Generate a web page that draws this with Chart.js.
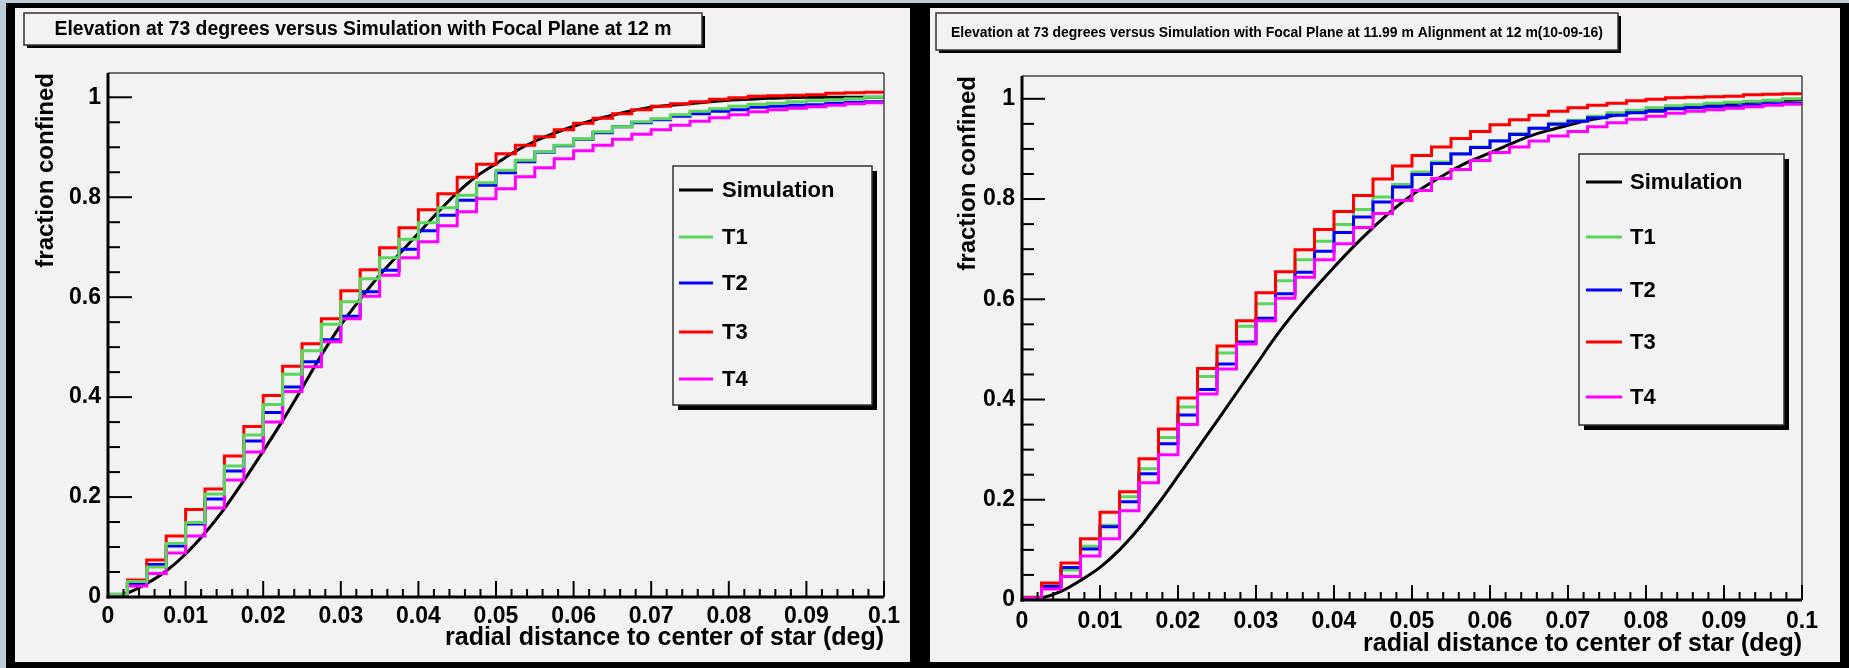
<!DOCTYPE html>
<html>
<head>
<meta charset="utf-8">
<title>Fraction confined vs radial distance</title>
<script src="https://cdn.jsdelivr.net/npm/chart.js@4.4.1/dist/chart.umd.min.js"></script>
<style>
  html, body { margin: 0; padding: 0; }
  body { width: 1849px; height: 668px; background: #000; position: relative; overflow: hidden; }
  .strip { position: absolute; background: #bccdd9; }
  canvas { position: absolute; top: 8px; background: #f2f2f2; }
</style>
</head>
<body>
<div class="strip" style="left:0;top:0;width:1849px;height:3px"></div>
<div class="strip" style="left:0;top:0;width:6px;height:668px"></div>
<canvas id="leftChart" width="895" height="654" style="left:15px"></canvas>
<canvas id="rightChart" width="910" height="654" style="left:930px"></canvas>
<script>
// bin edges / sample radii (deg)
var radius = [0, 0.0025, 0.005, 0.0075, 0.01, 0.0125, 0.015, 0.0175, 0.02, 0.0225,
  0.025, 0.0275, 0.03, 0.0325, 0.035, 0.0375, 0.04, 0.0425, 0.045, 0.0475,
  0.05, 0.0525, 0.055, 0.0575, 0.06, 0.0625, 0.065, 0.0675, 0.07, 0.0725,
  0.075, 0.0775, 0.08, 0.0825, 0.085, 0.0875, 0.09, 0.0925, 0.095, 0.0975, 0.1];

// simulation curves (one per panel), sampled at radius
var simLeft = [0, 0.008, 0.027, 0.052, 0.086, 0.128, 0.177, 0.233, 0.292, 0.353,
  0.418, 0.484, 0.544, 0.596, 0.644, 0.686, 0.728, 0.77, 0.809, 0.842,
  0.867, 0.892, 0.912, 0.928, 0.942, 0.954, 0.964, 0.973, 0.98, 0.984,
  0.987, 0.991, 0.994, 0.996, 0.998, 0.999, 1.0, 1.0, 1.0, 1.0, 1.0];
var simRight = [0, 0.004, 0.017, 0.039, 0.065, 0.1, 0.143, 0.193, 0.247, 0.302,
  0.357, 0.413, 0.469, 0.525, 0.575, 0.621, 0.664, 0.705, 0.743, 0.778,
  0.808, 0.833, 0.856, 0.876, 0.892, 0.909, 0.925, 0.937, 0.947, 0.957,
  0.964, 0.971, 0.976, 0.98, 0.983, 0.986, 0.989, 0.992, 0.995, 0.997, 0.998];

// measured telescopes, cumulative fraction per bin (40 bins)
var t1 = [0.006, 0.031, 0.06, 0.107, 0.149, 0.206, 0.262, 0.324, 0.385, 0.446,
  0.493, 0.546, 0.591, 0.637, 0.679, 0.716, 0.749, 0.779, 0.804, 0.829,
  0.854, 0.874, 0.891, 0.904, 0.917, 0.931, 0.941, 0.951, 0.957, 0.965,
  0.972, 0.977, 0.982, 0.986, 0.988, 0.991, 0.993, 0.995, 0.997, 1.0];
var t2 = [0.005, 0.027, 0.065, 0.102, 0.146, 0.196, 0.252, 0.312, 0.369, 0.42,
  0.471, 0.515, 0.562, 0.611, 0.654, 0.696, 0.733, 0.764, 0.794, 0.824,
  0.849, 0.871, 0.89, 0.903, 0.916, 0.929, 0.941, 0.949, 0.955, 0.962,
  0.967, 0.972, 0.975, 0.98, 0.982, 0.984, 0.985, 0.988, 0.99, 0.991];
var t3 = [0.005, 0.034, 0.074, 0.122, 0.175, 0.216, 0.282, 0.341, 0.403, 0.462,
  0.507, 0.557, 0.613, 0.655, 0.699, 0.739, 0.775, 0.807, 0.84, 0.866,
  0.887, 0.904, 0.921, 0.935, 0.948, 0.958, 0.967, 0.975, 0.982, 0.987,
  0.991, 0.996, 0.999, 1.002, 1.003, 1.004, 1.005, 1.008, 1.009, 1.01];
var t4 = [0.004, 0.022, 0.047, 0.088, 0.122, 0.178, 0.234, 0.29, 0.35, 0.411,
  0.461, 0.511, 0.557, 0.602, 0.644, 0.679, 0.711, 0.743, 0.771, 0.797,
  0.817, 0.841, 0.859, 0.877, 0.893, 0.904, 0.916, 0.926, 0.935, 0.944,
  0.952, 0.959, 0.965, 0.971, 0.975, 0.978, 0.981, 0.984, 0.987, 0.989];

var seriesNames = ['Simulation', 'T1', 'T2', 'T3', 'T4'];
var xTickLabels = ['0', '0.01', '0.02', '0.03', '0.04', '0.05', '0.06', '0.07', '0.08', '0.09', '0.1'];
var yTickLabels = ['0', '0.2', '0.4', '0.6', '0.8', '1'];
var panelTitles = [
  'Elevation at 73 degrees versus Simulation with Focal Plane at 12 m',
  'Elevation at 73 degrees versus Simulation with Focal Plane at 11.99 m Alignment at 12 m(10-09-16)'
];
var yAxisTitle = 'fraction confined';
var xAxisTitle = 'radial distance to center of star (deg)';

var colors = { Simulation: '#000000', T1: '#5ad65a', T2: '#0000ff', T3: '#ff0000', T4: '#ff00ff' };

Chart.defaults.font.family = '"Liberation Sans", Arial, sans-serif';
Chart.defaults.color = '#000';

function histPoints(values) {
  return radius.map(function (r, i) {
    return { x: r, y: values[Math.min(i, values.length - 1)] };
  });
}
function curvePoints(values) {
  return radius.map(function (r, i) { return { x: r, y: values[i] }; });
}

function line(ctx, x0, y0, x1, y1) {
  ctx.beginPath();
  ctx.moveTo(x0, y0);
  ctx.lineTo(x1, y1);
  ctx.stroke();
}

function shadowBox(ctx, b, off) {
  ctx.fillStyle = '#000';
  ctx.fillRect(b.x + off, b.y + off, b.w, b.h);
  ctx.fillStyle = '#f2f2f2';
  ctx.fillRect(b.x, b.y, b.w, b.h);
  ctx.strokeStyle = '#333';
  ctx.lineWidth = 1.5;
  ctx.strokeRect(b.x, b.y, b.w, b.h);
}

// ROOT-like decorations: title pave, inner ticks, frame, legend box
var rootStyle = {
  id: 'rootStyle',
  beforeDraw: function (chart, args, o) {
    var ctx = chart.ctx;
    ctx.save();
    shadowBox(ctx, o.titleBox, 3);
    ctx.fillStyle = '#000';
    ctx.font = 'bold ' + o.titleBox.font + 'px "Liberation Sans", Arial, sans-serif';
    ctx.textAlign = 'center';
    ctx.textBaseline = 'middle';
    ctx.fillText(o.title, o.titleBox.x + o.titleBox.w / 2, o.titleBox.y + o.titleBox.h / 2 + 1, o.titleBox.maxW);
    ctx.restore();
  },
  afterDatasetsDraw: function (chart, args, o) {
    var ctx = chart.ctx, a = chart.chartArea, xs = chart.scales.x, ys = chart.scales.y;
    ctx.save();
    ctx.lineCap = 'butt';
    ctx.strokeStyle = '#444';
    ctx.lineWidth = 1.5;
    line(ctx, a.left, a.top, a.right, a.top);
    line(ctx, a.right, a.top, a.right, a.bottom);
    ctx.strokeStyle = '#000';
    ctx.lineWidth = 2;
    var k, p;
    for (k = 0; k <= 50; k++) {
      p = xs.getPixelForValue(k * 0.002);
      line(ctx, p, a.bottom, p, a.bottom - (k % 5 === 0 ? o.xTick[0] : o.xTick[1]));
    }
    for (k = 0; k <= 20; k++) {
      p = ys.getPixelForValue(k * 0.05);
      line(ctx, a.left, p, a.left + (k % 4 === 0 ? o.yTick[0] : o.yTick[1]), p);
    }
    ctx.lineWidth = 3;
    line(ctx, a.left, a.top, a.left, a.bottom + 1.5);
    line(ctx, a.left - 1.5, a.bottom, a.right, a.bottom);
    ctx.restore();
  },
  afterDraw: function (chart, args, o) {
    var ctx = chart.ctx, L = o.legend;
    ctx.save();
    shadowBox(ctx, L, 5);
    ctx.font = 'bold 22px "Liberation Sans", Arial, sans-serif';
    ctx.textAlign = 'left';
    ctx.textBaseline = 'middle';
    seriesNames.forEach(function (name, i) {
      var ds = chart.data.datasets.find(function (d) { return d.label === name; });
      ctx.strokeStyle = ds.borderColor;
      ctx.lineWidth = 3;
      line(ctx, L.lineX0, L.rows[i], L.lineX1, L.rows[i]);
      ctx.fillStyle = '#000';
      ctx.fillText(name, L.textX, L.rows[i] + 1);
    });
    ctx.restore();
  }
};

function makePanel(p) {
  var series = { Simulation: null, T1: t1, T2: t2, T3: t3, T4: t4 };
  var datasets = p.stack.map(function (name) {
    var isSim = name === 'Simulation';
    return {
      label: name,
      data: isSim ? curvePoints(p.sim) : histPoints(series[name]),
      borderColor: colors[name],
      borderWidth: 3,
      pointRadius: 0,
      fill: false,
      stepped: isSim ? false : 'before',
      cubicInterpolationMode: isSim ? 'monotone' : 'default'
    };
  });

  return new Chart(p.canvasId, {
    type: 'line',
    data: { datasets: datasets },
    options: {
      responsive: false,
      animation: false,
      events: [],
      layout: { padding: { top: p.padTop, right: p.padRight, left: 0, bottom: 0 } },
      plugins: {
        legend: { display: false },
        tooltip: { enabled: false },
        rootStyle: {
          title: p.title,
          titleBox: p.titleBox,
          legend: p.legend,
          xTick: p.xTick,
          yTick: p.yTick
        }
      },
      scales: {
        x: {
          type: 'linear',
          min: 0,
          max: 0.1,
          grid: { display: false, drawTicks: false },
          border: { display: false },
          afterFit: function (s) { s.height = p.xHeight; },
          ticks: {
            stepSize: 0.01,
            includeBounds: false,
            autoSkip: false,
            maxRotation: 0,
            padding: p.xTickPad,
            font: { size: 23, weight: 'bold' },
            callback: function (v, i) { return xTickLabels[i]; }
          },
          title: {
            display: true,
            text: xAxisTitle,
            align: 'end',
            font: { size: 25, weight: 'bold' },
            padding: { top: 0, bottom: p.xTitlePad }
          }
        },
        y: {
          type: 'linear',
          min: 0,
          max: p.yMax,
          grid: { display: false, drawTicks: false },
          border: { display: false },
          afterFit: function (s) { s.width = p.yWidth; },
          ticks: {
            stepSize: 0.2,
            includeBounds: false,
            padding: 7,
            font: { size: 23, weight: 'bold' },
            callback: function (v, i) { return yTickLabels[i]; }
          },
          title: {
            display: true,
            text: yAxisTitle,
            align: 'end',
            font: { size: 24, weight: 'bold' },
            padding: { top: p.yTitlePad, bottom: 0 }
          }
        }
      }
    },
    plugins: [rootStyle]
  });
}

makePanel({
  canvasId: 'leftChart',
  sim: simLeft,
  stack: ['T1', 'T4', 'T3', 'T2', 'Simulation'],
  yMax: 1.0486,
  padTop: 65, padRight: 26, yWidth: 93, xHeight: 65,
  xTickPad: 6, xTitlePad: 9, yTitlePad: 17,
  xTick: [16, 8], yTick: [24, 12],
  title: panelTitles[0],
  titleBox: { x: 9, y: 5, w: 678, h: 32, font: 19.5, maxW: 617 },
  legend: { x: 658, y: 158, w: 199, h: 239, rows: [182, 229, 275, 324, 371], lineX0: 664, lineX1: 698, textX: 707 }
});

makePanel({
  canvasId: 'rightChart',
  sim: simRight,
  stack: ['T4', 'T3', 'T2', 'T1', 'Simulation'],
  yMax: 1.0455,
  padTop: 68, padRight: 38, yWidth: 92, xHeight: 62,
  xTickPad: 8, xTitlePad: 3, yTitlePad: 24,
  xTick: [15, 8], yTick: [23, 12],
  title: panelTitles[1],
  titleBox: { x: 6, y: 5, w: 682, h: 37, font: 15.5, maxW: 652 },
  legend: { x: 649, y: 146, w: 205, h: 271, rows: [174, 229, 282, 334, 389], lineX0: 656, lineX1: 692, textX: 700 }
});
</script>
</body>
</html>
